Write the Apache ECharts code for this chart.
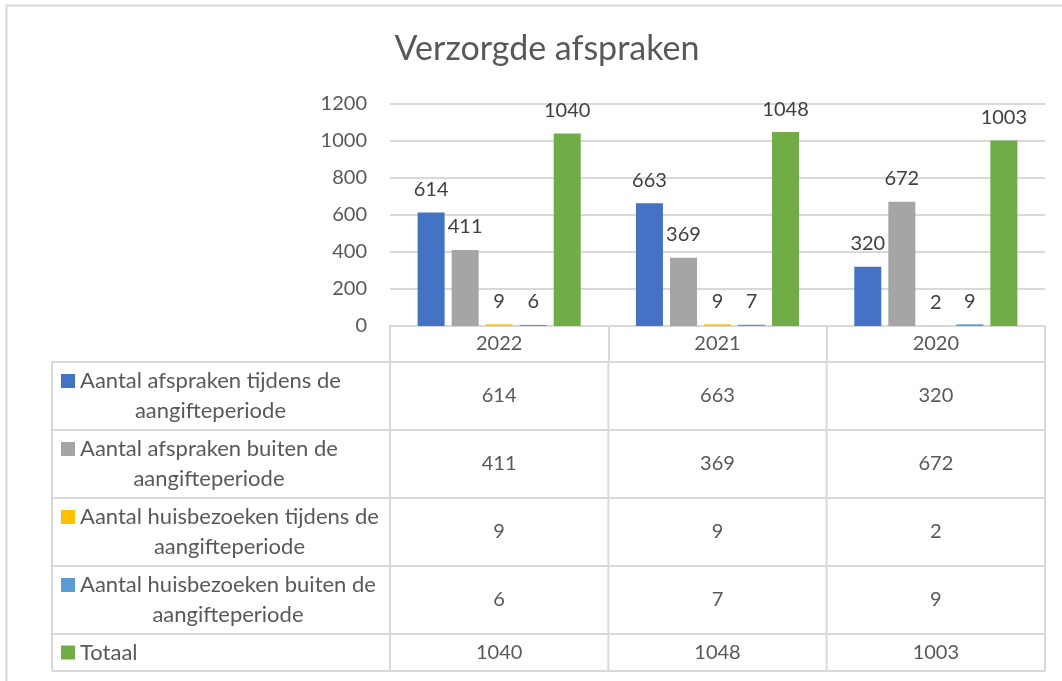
<!DOCTYPE html>
<html>
<head>
<meta charset="utf-8">
<script src="https://cdn.jsdelivr.net/npm/echarts@6/dist/echarts.min.js"></script>
<style>
  html, body { margin: 0; padding: 0; background: #fff; }
  #main { width: 1062px; height: 681px; }
</style>
</head>
<body>
<div id="main"></div>
<script>
// data
var years = ['2022', '2021', '2020'];
var seriesNames = [
    'Aantal afspraken tijdens de aangifteperiode',
    'Aantal afspraken buiten de aangifteperiode',
    'Aantal huisbezoeken tijdens de aangifteperiode',
    'Aantal huisbezoeken buiten de aangifteperiode',
    'Totaal'
];
var afsprakenTijdens = [614, 663, 320];
var afsprakenBuiten = [411, 369, 672];
var huisbezoekenTijdens = [9, 9, 2];
var huisbezoekenBuiten = [6, 7, 9];
var totaal = [1040, 1048, 1003];
var yTicks = [0, 200, 400, 600, 800, 1000, 1200];

var seriesData = [afsprakenTijdens, afsprakenBuiten, huisbezoekenTijdens, huisbezoekenBuiten, totaal];
var colors = ['#4472C4', '#A5A5A5', '#FFC000', '#5B9BD5', '#70AD47'];

var FONT = 'Lato';
var lineColor = '#d9d9d9';
var textColor = '#595959';

var chartDom = document.getElementById('main');
var myChart = echarts.init(chartDom);

var option = {
    animation: false,
    color: colors,
    title: {
        text: 'Verzorgde afspraken',
        left: 542,
        top: 27,
        textAlign: 'center',
        textStyle: { fontFamily: FONT, fontSize: 34, fontWeight: 'normal', color: textColor }
    },
    grid: { left: 390, right: 17, top: 104, bottom: 355 },
    xAxis: {
        type: 'category',
        data: years,
        axisLine: { lineStyle: { color: lineColor, width: 2 } },
        axisTick: { show: true, length: 36, lineStyle: { color: lineColor, width: 2 } },
        axisLabel: { margin: 8, fontFamily: FONT, fontSize: 20, color: textColor }
    },
    yAxis: {
        type: 'value',
        min: yTicks[0],
        max: yTicks[yTicks.length - 1],
        interval: 200,
        axisLine: { show: false },
        axisTick: { show: false },
        axisLabel: {
            margin: 23, fontFamily: FONT, fontSize: 20, color: textColor,
            formatter: function (v) { return String(v); }
        },
        splitLine: { lineStyle: { color: lineColor, width: 2 } }
    },
    series: seriesData.map(function (d, i) {
        return {
            name: seriesNames[i],
            type: 'bar',
            data: d,
            barWidth: 27,
            barGap: '26%',
            label: {
                show: true,
                position: 'top',
                distance: 13,
                fontFamily: FONT,
                fontSize: 20,
                color: '#404040'
            }
        };
    })
};

myChart.setOption(option);

// data table under the plot, positioned from the x axis
function buildTable() {
    var labelSize = 22;
    var ctx = document.createElement('canvas').getContext('2d');
    ctx.font = labelSize + 'px ' + FONT;

    var half = (myChart.convertToPixel({ xAxisIndex: 0 }, 1) - myChart.convertToPixel({ xAxisIndex: 0 }, 0)) / 2;
    var centers = years.map(function (y, i) { return myChart.convertToPixel({ xAxisIndex: 0 }, i); });
    var colEdges = [centers[0] - half].concat(centers.map(function (c) { return c + half; }));
    var tableLeft = 52;
    var rowHeights = [68, 68, 68, 68, 37];
    var rowTop = myChart.convertToPixel({ yAxisIndex: 0 }, 0) + 36;

    var els = [];
    var lineStyle = { stroke: lineColor, lineWidth: 2 };

    // outer chart border
    els.push({ type: 'rect', shape: { x: 6.5, y: 5.5, width: 1200, height: 800 }, style: { fill: null, stroke: lineColor, lineWidth: 2 }, silent: true });

    var y = rowTop;
    var ys = [y];
    rowHeights.forEach(function (h) { y += h; ys.push(y); });

    ys.forEach(function (yy) {
        els.push({ type: 'line', shape: { x1: tableLeft, y1: yy, x2: colEdges[colEdges.length - 1], y2: yy }, style: lineStyle });
    });
    [tableLeft].concat(colEdges).forEach(function (xx) {
        els.push({ type: 'line', shape: { x1: xx, y1: ys[0], x2: xx, y2: ys[ys.length - 1] }, style: lineStyle });
    });

    seriesNames.forEach(function (name, r) {
        var top = ys[r], mid = top + rowHeights[r] / 2;
        // wrap the label
        var words = name.split(' '), lines = [], cur = '';
        words.forEach(function (w) {
            var t = cur ? cur + ' ' + w : w;
            if (ctx.measureText(t).width > 306 && cur) { lines.push(cur); cur = w; } else { cur = t; }
        });
        lines.push(cur);
        var maxW = Math.max.apply(null, lines.map(function (l) { return ctx.measureText(l).width; }));
        var lh = 30;
        var firstY = mid - (lines.length - 1) * lh / 2;
        els.push({ type: 'rect', shape: { x: 61, y: firstY - 7, width: 14, height: 14 }, style: { fill: colors[r] } });
        els.push({
            type: 'text', x: 80 + maxW / 2, y: mid,
            style: { text: lines.join('\n'), fontFamily: FONT, fontSize: labelSize, fill: textColor, align: 'center', verticalAlign: 'middle', lineHeight: lh }
        });
        seriesData[r].forEach(function (v, c) {
            els.push({
                type: 'text', x: centers[c], y: mid,
                style: { text: String(v), fontFamily: FONT, fontSize: 20, fill: textColor, align: 'center', verticalAlign: 'middle' }
            });
        });
    });

    myChart.setOption({ graphic: { elements: els } });
}
buildTable();
</script>
</body>
</html>
